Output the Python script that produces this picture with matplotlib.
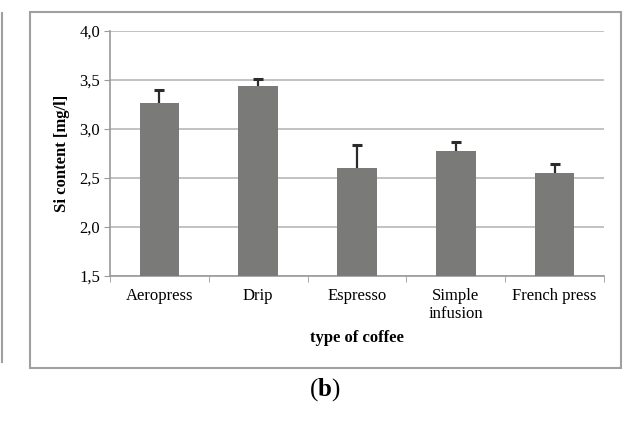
import numpy as np
import matplotlib.pyplot as plt
from matplotlib.patches import Rectangle
from matplotlib.lines import Line2D
from matplotlib.ticker import FuncFormatter

categories = ['Aeropress', 'Drip', 'Espresso', 'Simple\ninfusion', 'French press']
si_content = [3.26, 3.44, 2.60, 2.77, 2.55]
si_error = [0.14, 0.07, 0.24, 0.10, 0.09]
y_ticks = [1.5, 2.0, 2.5, 3.0, 3.5, 4.0]


def main():
    plt.rcParams['font.family'] = ['Liberation Serif', 'DejaVu Serif']
    plt.rcParams['mathtext.fontset'] = 'custom'
    plt.rcParams['mathtext.rm'] = 'Liberation Serif'
    plt.rcParams['mathtext.bf'] = 'Liberation Serif:bold'
    fig = plt.figure(figsize=(6.38, 4.22), dpi=100)
    ax = fig.add_axes([0.1724, 0.346, 0.7743, 0.581])

    x = np.arange(len(categories))
    ax.bar(x, si_content, width=0.4, color='#7a7a78', zorder=3)
    # only the upper half of the error bar is shown
    _, caps, _ = ax.errorbar(x, si_content, yerr=[np.zeros(len(si_error)), si_error],
                             fmt='none', ecolor='#2b2b2b', elinewidth=1.6, capsize=3.5,
                             capthick=2.2, zorder=4)
    caps[0].set_visible(False)

    ax.set_xlim(-0.5, len(categories) - 0.5)
    ax.set_ylim(1.5, 4.0)
    ax.set_yticks(y_ticks)
    ax.yaxis.set_major_formatter(FuncFormatter(lambda v, p: f'{v:.1f}'.replace('.', ',')))
    ax.yaxis.grid(True, color='#b8b8b8', linewidth=1.2, zorder=0)

    ax.set_xticks(x)
    ax.set_xticklabels(categories, fontsize=12, linespacing=1.1)
    ax.set_xticks(np.arange(-0.5, len(categories)), minor=True)
    ax.tick_params(axis='x', which='major', length=0, pad=9)
    ax.tick_params(axis='x', which='minor', length=4, color='#9a9a9a', direction='out')
    ax.tick_params(axis='y', length=4, color='#9a9a9a', labelsize=12, pad=3)

    for s in ['top', 'right']:
        ax.spines[s].set_visible(False)
    for s in ['left', 'bottom']:
        ax.spines[s].set_color('#9a9a9a')
        ax.spines[s].set_linewidth(1.2)

    ax.set_ylabel('Si content [mg/l]', fontsize=12, fontweight='bold', labelpad=7)
    ax.set_xlabel('type of coffee', fontsize=12, fontweight='bold', labelpad=6)

    # outer chart frame and edge of neighbouring panel
    fig.patches.append(Rectangle((30 / 638, 1 - 368 / 422), 591 / 638, 356 / 422,
                                 transform=fig.transFigure, fill=False,
                                 edgecolor='#a0a0a0', linewidth=1.5))
    fig.lines.append(Line2D([2 / 638, 2 / 638], [1 - 13 / 422, 1 - 362 / 422],
                            transform=fig.transFigure, color='#a0a0a0', linewidth=1.5))

    fig.text(325 / 638, 1 - 390 / 422, r'($\mathbf{b}$)', fontsize=18,
             ha='center', va='center')

    fig.savefig('out.png', dpi=100)


if __name__ == "__main__":
    main()
